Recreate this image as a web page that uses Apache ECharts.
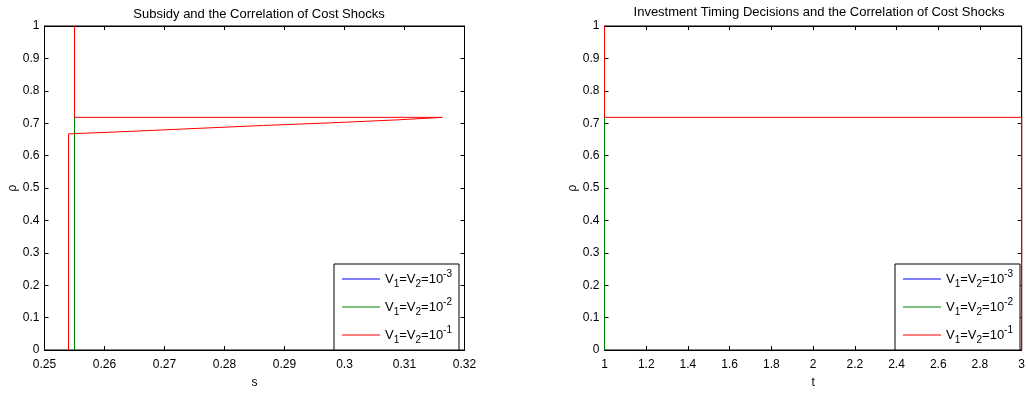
<!DOCTYPE html>
<html>
<head>
<meta charset="utf-8">
<script src="https://cdn.jsdelivr.net/npm/echarts@6/dist/echarts.min.js"></script>
<style>
html,body{margin:0;padding:0;background:#fff;}
#chart{width:1028px;height:394px;}
</style>
</head>
<body>
<div id="chart"></div>
<script>
// ---- Data ----
const seriesNames = ['V1=V2=10-3', 'V1=V2=10-2', 'V1=V2=10-1'];
const seriesColors = ['#0000ff', '#008000', '#ff0000'];

// Left panel: subsidy s (x) vs rho (y)
const leftBlueS   = [0.255, 0.255];
const leftBlueRho = [0, 1];
const leftGreenS   = [0.255, 0.255];
const leftGreenRho = [0, 1];
const leftRedS   = [0.254, 0.254, 0.2645, 0.2755, 0.2865, 0.2975, 0.3085, 0.3163, 0.255, 0.255];
const leftRedRho = [0, 0.667, 0.675, 0.684, 0.693, 0.701, 0.710, 0.718, 0.718, 1];

// Right panel: timing t (x) vs rho (y)
const rightBlueT   = [1, 1];
const rightBlueRho = [0, 1];
const rightGreenT   = [1, 1];
const rightGreenRho = [0, 1];
const rightRedT   = [3, 3, 1, 1];
const rightRedRho = [0, 0.718, 0.718, 1];

const titles = ['Subsidy and the Correlation of Cost Shocks',
                'Investment Timing Decisions and the Correlation of Cost Shocks'];
const xNames = ['s', 't'];
const yName = 'ρ';

// ---- Helpers ----
const zip = (xs, ys) => xs.map((x, i) => [x, ys[i]]);
const FONT = 'Liberation Sans, Arial, Helvetica, sans-serif';

function legendLabel(name) {
  const m = name.match(/^V1=V2=10(-\d)$/);
  return '{m|V}{s|1}{m|=V}{s|2}{m|=10}{p|' + m[1] + '}';
}

function axesFor(gi, xmin, xmax, xint, xname) {
  const tick = {show: true, inside: true, length: 4, lineStyle: {color: '#000', width: 1}};
  const line = {show: true, onZero: false, lineStyle: {color: '#000', width: 1}};
  const x = [
    {type: 'value', gridIndex: gi, min: xmin, max: xmax, interval: xint, position: 'bottom',
     name: xname, nameLocation: 'middle', nameGap: 27,
     nameTextStyle: {color: '#000', fontSize: 12, fontFamily: FONT},
     axisLine: line, axisTick: tick, splitLine: {show: false},
     axisLabel: {color: '#000', fontSize: 12, fontFamily: FONT, margin: 9}},
    {type: 'value', gridIndex: gi, min: xmin, max: xmax, interval: xint, position: 'top',
     axisLine: line, axisTick: tick, splitLine: {show: false}, axisLabel: {show: false}}
  ];
  const y = [
    {type: 'value', gridIndex: gi, min: 0, max: 1, interval: 0.1, position: 'left',
     name: yName, nameLocation: 'middle', nameGap: 25, nameRotate: 90,
     nameTextStyle: {color: '#000', fontSize: 12, fontFamily: FONT},
     axisLine: line, axisTick: tick, splitLine: {show: false},
     axisLabel: {color: '#000', fontSize: 12, fontFamily: FONT, margin: 5}},
    {type: 'value', gridIndex: gi, min: 0, max: 1, interval: 0.1, position: 'right',
     axisLine: line, axisTick: tick, splitLine: {show: false}, axisLabel: {show: false}}
  ];
  return {x, y};
}

const A0 = axesFor(0, 0.25, 0.32, 0.01, xNames[0]);
const A1 = axesFor(1, 1, 3, 0.2, xNames[1]);

function lineSeries(name, color, data, xi, yi) {
  return {
    type: 'line', name, data, xAxisIndex: xi, yAxisIndex: yi,
    symbol: 'none', showSymbol: false, clip: false, animation: false,
    lineStyle: {color, width: 1}, itemStyle: {color}
  };
}

const legendCommon = {
  orient: 'vertical', top: 264, itemWidth: 38, itemHeight: 20, itemGap: 8,
  padding: [5, 7, 5, 8], borderColor: '#000', borderWidth: 1, backgroundColor: '#fff',
  selectedMode: false, data: seriesNames,
  icon: 'path://M0,0H38V1H0Z', symbolKeepAspect: true,
  itemStyle: {borderWidth: 0},
  formatter: legendLabel,
  textStyle: {
    color: '#000', fontFamily: FONT,
    rich: {
      m: {fontSize: 13, lineHeight: 20, verticalAlign: 'middle', fontFamily: FONT, color: '#000'},
      s: {fontSize: 10, lineHeight: 9, verticalAlign: 'bottom', fontFamily: FONT, color: '#000'},
      p: {fontSize: 10, lineHeight: 10, verticalAlign: 'top', fontFamily: FONT, color: '#000'}
    }
  }
};

const option = {
  animation: false,
  backgroundColor: '#fff',
  title: [
    {text: titles[0], left: 254, top: 3, textAlign: 'center',
     textStyle: {color: '#000', fontSize: 13, fontWeight: 'normal', fontFamily: FONT}},
    {text: titles[1], left: 814, top: 1, textAlign: 'center',
     textStyle: {color: '#000', fontSize: 13, fontWeight: 'normal', fontFamily: FONT}}
  ],
  grid: [
    {left: 44.5, top: 26, width: 420, height: 331, show: true, borderColor: '#000', borderWidth: 1, backgroundColor: '#fff'},
    {left: 604.5, top: 26, width: 421, height: 331, show: true, borderColor: '#000', borderWidth: 1, backgroundColor: '#fff'}
  ],
  xAxis: [...A0.x, ...A1.x],
  yAxis: [...A0.y, ...A1.y],
  legend: [
    Object.assign({}, legendCommon, {left: 334}),
    Object.assign({}, legendCommon, {left: 895})
  ],
  series: [
    lineSeries(seriesNames[0], seriesColors[0], zip(leftBlueS, leftBlueRho), 0, 0),
    lineSeries(seriesNames[1], seriesColors[1], zip(leftGreenS, leftGreenRho), 0, 0),
    lineSeries(seriesNames[2], seriesColors[2], zip(leftRedS, leftRedRho), 0, 0),
    lineSeries(seriesNames[0], seriesColors[0], zip(rightBlueT, rightBlueRho), 2, 2),
    lineSeries(seriesNames[1], seriesColors[1], zip(rightGreenT, rightGreenRho), 2, 2),
    lineSeries(seriesNames[2], seriesColors[2], zip(rightRedT, rightRedRho), 2, 2)
  ]
};

const chart = echarts.init(document.getElementById('chart'), null, {renderer: 'canvas'});
chart.setOption(option);
</script>
</body>
</html>
